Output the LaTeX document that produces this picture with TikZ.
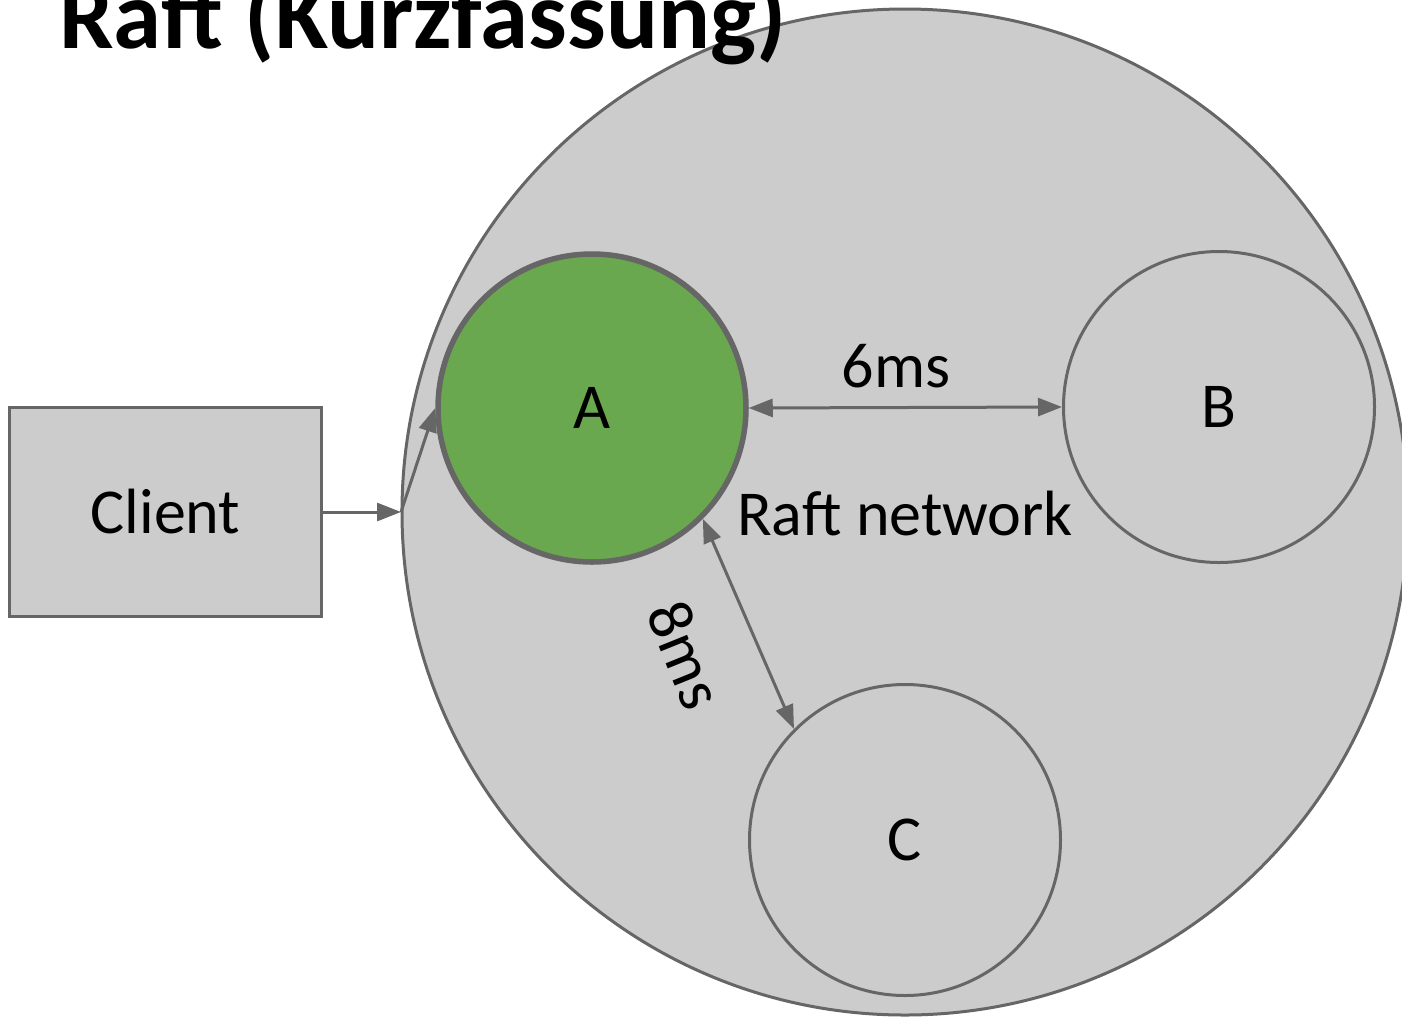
\documentclass[tikz,border=0pt]{standalone}
\usepackage{fontspec}
\setmainfont{Carlito}
\usetikzlibrary{arrows.meta}
\definecolor{edgegray}{HTML}{666666}
\definecolor{fillgray}{HTML}{CCCCCC}
\definecolor{leadergreen}{HTML}{6AA84F}
\begin{document}
\begin{tikzpicture}[x=1pt,y=-1pt,
  lbl/.style={font=\fontsize{64}{76}\selectfont, text=black, inner sep=0pt},
  node/.style={circle, draw=edgegray, fill=fillgray, line width=3pt, minimum size=311pt, inner sep=0pt, font=\fontsize{64}{76}\selectfont},
  leader/.style={node, fill=leadergreen, line width=5.5pt, minimum size=308pt},
  arr/.style={draw=edgegray, line width=3pt, -{Triangle[length=24pt,width=18pt]}},
  darr/.style={draw=edgegray, line width=3pt, {Triangle[length=24pt,width=18pt]}-{Triangle[length=24pt,width=18pt]}}
]
\useasboundingbox (0,0) rectangle (1402,1018);
\clip (0,0) rectangle (1402,1018);
\fill[white] (0,0) rectangle (1402,1018);
\node[circle, draw=edgegray, fill=fillgray, line width=3pt, minimum size=1006pt, inner sep=0pt] (net) at (905,512) {};
\node[draw=edgegray, fill=fillgray, line width=3pt, minimum width=312pt, minimum height=209pt, inner sep=0pt, font=\fontsize{64}{76}\selectfont] (client) at (165.5,512) {Client};
\node[leader] (A) at (592,408) {A};
\node[node] (B) at (1219,407) {B};
\node[node] (C) at (905,840) {C};
\coordinate (j) at (401,512);
\draw[arr] (client.east) -- (j);
\draw[arr] (j) -- (A.west);
\draw[darr] (A.east) -- (B.west);
\draw[darr] (A.-45) -- (C.135);
\node[lbl, anchor=base] (l6) at (896,387) {6ms};
\node[lbl, anchor=base] (lnet) at (905,535) {Raft network};
\node[lbl, rotate=-68] (l8) at (686,655) {8ms};
\node[anchor=base west, inner sep=0pt, font=\fontsize{97}{112}\selectfont\bfseries] (title) at (59,48) {Raft (Kurzfassung)};
\end{tikzpicture}
\end{document}
